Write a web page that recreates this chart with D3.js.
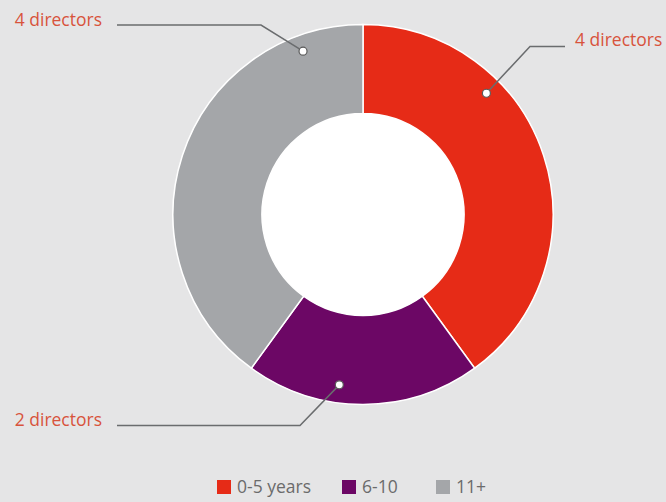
<!DOCTYPE html>
<html>
<head>
<meta charset="utf-8">
<script src="https://cdn.jsdelivr.net/npm/d3@7"></script>
<style>
  body { margin: 0; background: #e5e5e6; }
  svg { display: block; }
  text { font-family: "Open Sans", sans-serif; }
</style>
</head>
<body>
<svg width="666" height="502"></svg>
<script>
var categories = ["0-5 years", "6-10", "11+"];
var directors = [4, 2, 4];
var labels = ["4 directors", "2 directors", "4 directors"];
var colors = ["#e62b17", "#6c0765", "#a4a6a9"];

var svg = d3.select("svg"),
    width = +svg.attr("width"),
    height = +svg.attr("height");

var cx = 363, cy = 214.5,
    outerR = 190, innerR = 101;

svg.append("rect")
    .attr("width", width)
    .attr("height", height)
    .attr("fill", "#e5e5e6");

var data = categories.map(function(c, i) {
    return {name: c, value: directors[i], label: labels[i], color: colors[i]};
});

var pie = d3.pie()
    .sort(null)
    .value(function(d) { return d.value; });

var arc = d3.arc()
    .innerRadius(innerR)
    .outerRadius(outerR);

var arcs = pie(data);

var g = svg.append("g")
    .attr("transform", "translate(" + cx + "," + cy + ")");

g.selectAll("path.slice")
    .data(arcs)
  .enter().append("path")
    .attr("class", "slice")
    .attr("d", arc)
    .attr("fill", function(d) { return d.data.color; })
    .attr("stroke", "#ffffff")
    .attr("stroke-width", 1.5);

g.append("circle")
    .attr("r", innerR)
    .attr("fill", "#ffffff");

// where each leader starts inside its slice (fraction of slice, radius),
// the elbow and where the horizontal run ends
var callouts = [
    {frac: 0.316, r: 173, elbow: [530, 46.5], end: 565, tx: 575, ty: 40, anchor: "start"},
    {frac: 0.61,  r: 172, elbow: [300, 425.5], end: 117, tx: 102, ty: 420, anchor: "end"},
    {frac: 0.86,  r: 174, elbow: [261, 25], end: 117, tx: 102, ty: 20, anchor: "end"}
];

arcs.forEach(function(a, i) {
    var c = callouts[i];
    var ang = a.startAngle + (a.endAngle - a.startAngle) * c.frac;
    var px = cx + c.r * Math.sin(ang),
        py = cy - c.r * Math.cos(ang);

    svg.append("path")
        .attr("d", d3.line()([[px, py], c.elbow, [c.end, c.elbow[1]]]))
        .attr("fill", "none")
        .attr("stroke", "#6a6c6e")
        .attr("stroke-width", 1.5);

    svg.append("circle")
        .attr("cx", px)
        .attr("cy", py)
        .attr("r", 4)
        .attr("fill", "#ffffff")
        .attr("stroke", "#5a5a5a")
        .attr("stroke-width", 1.2);

    svg.append("text")
        .attr("x", c.tx)
        .attr("y", c.ty)
        .attr("dy", "0.35em")
        .attr("text-anchor", c.anchor)
        .attr("fill", "#d8533c")
        .style("font-size", "17.5px")
        .text(a.data.label);
});

// legend
var legendX = [217, 342, 436];
var legend = svg.selectAll("g.legend")
    .data(data)
  .enter().append("g")
    .attr("class", "legend")
    .attr("transform", function(d, i) { return "translate(" + legendX[i] + ",480)"; });

legend.append("rect")
    .attr("width", 14)
    .attr("height", 14)
    .attr("fill", function(d) { return d.color; });

legend.append("text")
    .attr("x", 20)
    .attr("y", 7)
    .attr("dy", "0.35em")
    .attr("fill", "#6b6b6b")
    .style("font-size", "17.5px")
    .text(function(d) { return d.name; });
</script>
</body>
</html>
